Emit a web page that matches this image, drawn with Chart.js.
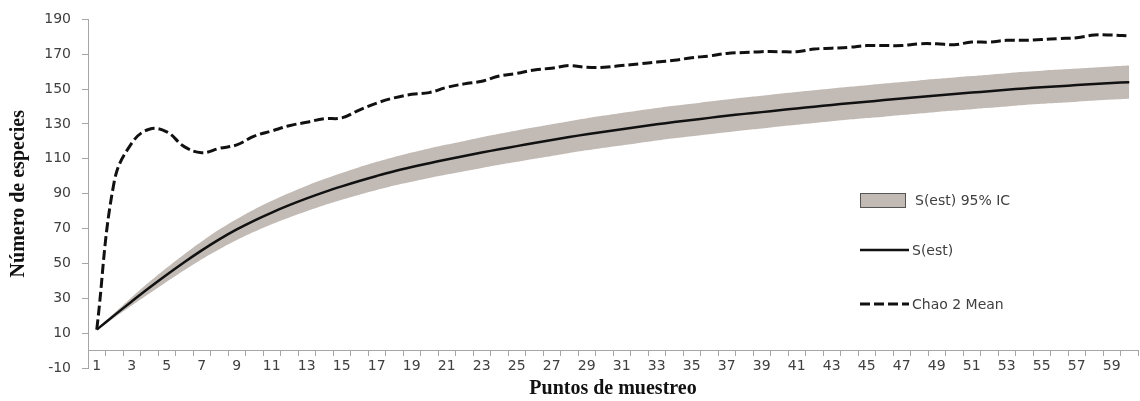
<!DOCTYPE html>
<html>
<head>
<meta charset="utf-8">
<script src="https://cdn.jsdelivr.net/npm/chart.js@4/dist/chart.umd.min.js"></script>
<style>
  html, body { margin: 0; padding: 0; background: #fff; }
  #wrap { width: 1140px; height: 401px; position: relative; }
</style>
</head>
<body>
<div id="wrap"><canvas id="curveChart"></canvas></div>
<script>
// Puntos de muestreo 1..60
var puntos = [];
for (var i = 1; i <= 60; i++) puntos.push(i);

// S(est) (rarefaction curve)
var sEst = [12, 20.2, 28.2, 36, 43.5, 50.7, 57.5, 63.8, 69.5, 74.6,
    79.2, 83.4, 87.3, 90.9, 94.2, 97.3, 100.2, 102.9, 105.3, 107.5,
    109.6, 111.6, 113.6, 115.5, 117.3, 119.1, 120.8, 122.5, 124.1, 125.6,
    127, 128.4, 129.8, 131.1, 132.3, 133.5, 134.7, 135.8, 136.8, 137.9,
    138.9, 139.9, 140.9, 141.9, 142.8, 143.7, 144.6, 145.5, 146.4, 147.2,
    148, 148.8, 149.6, 150.4, 151.1, 151.7, 152.3, 152.9, 153.5, 154];

// S(est) 95% IC upper / lower limits
var icUpper = [12, 21.5, 30.6, 39.3, 47.5, 55.3, 62.6, 69.4, 75.5, 81,
    85.9, 90.4, 94.6, 98.4, 101.9, 105.2, 108.3, 111.1, 113.7, 116,
    118.2, 120.3, 122.4, 124.4, 126.3, 128.1, 129.9, 131.6, 133.3, 134.8,
    136.3, 137.7, 139.1, 140.4, 141.6, 142.9, 144.1, 145.2, 146.2, 147.3,
    148.3, 149.3, 150.3, 151.3, 152.2, 153.2, 154.1, 155, 155.9, 156.7,
    157.5, 158.3, 159.1, 159.9, 160.6, 161.2, 161.8, 162.4, 163, 163.5];
var icLower = [12, 18.9, 25.8, 32.7, 39.5, 46.1, 52.4, 58.2, 63.5, 68.2,
    72.5, 76.4, 80, 83.4, 86.5, 89.4, 92.1, 94.7, 96.9, 99,
    101, 102.9, 104.8, 106.6, 108.3, 110.1, 111.7, 113.4, 114.9, 116.4,
    117.7, 119.1, 120.5, 121.8, 123, 124.1, 125.3, 126.4, 127.4, 128.5,
    129.5, 130.5, 131.5, 132.5, 133.4, 134.2, 135.1, 136, 136.9, 137.7,
    138.5, 139.3, 140.1, 140.9, 141.6, 142.2, 142.8, 143.4, 144, 144.5];

// Chao 2 Mean
var chao2 = [12, 97, 119, 127, 125.5, 117, 113.5, 116, 118, 123,
    126, 129, 131, 133, 133.5, 138, 142, 145, 147, 148,
    151, 153, 154.5, 157.5, 159, 161, 162, 163.5, 162.5, 162.5,
    163.5, 164.5, 165.5, 166.5, 168, 169, 170.5, 171, 171.5, 171.5,
    171.5, 173, 173.5, 174, 175, 175, 175, 176, 176, 175.5,
    177, 177, 178, 178, 178.5, 179, 179.5, 181, 181, 180.5];

var yTicks = [-10, 10, 30, 50, 70, 90, 110, 130, 150, 170, 190];

var bandColor = "#c2bab5";
var axisColor = "#a6a6a6";
var textColor = "#404040";
var tickFont = { family: "DejaVu Sans", size: 14 };
var titleFont = { family: "Liberation Serif", size: 20, weight: "bold" };

// legend drawn at a fixed spot inside the plot, like the original
var legendPlugin = {
    id: "sideLegend",
    afterDraw: function(chart) {
        var ctx = chart.ctx;
        var ds = chart.data.datasets;
        ctx.save();
        ctx.font = "14px 'DejaVu Sans'";
        ctx.textBaseline = "middle";
        // band
        ctx.fillStyle = ds[1].backgroundColor;
        ctx.fillRect(860, 193, 46, 15);
        ctx.strokeStyle = "#555";
        ctx.lineWidth = 1;
        ctx.strokeRect(860.5, 193.5, 45, 14);
        ctx.fillStyle = textColor;
        ctx.fillText(ds[1].label, 915, 201);
        // solid line
        ctx.strokeStyle = ds[2].borderColor;
        ctx.lineWidth = ds[2].borderWidth;
        ctx.beginPath(); ctx.moveTo(860, 250); ctx.lineTo(909, 250); ctx.stroke();
        ctx.fillText(ds[2].label, 912, 251);
        // dashed line
        ctx.strokeStyle = ds[3].borderColor;
        ctx.lineWidth = ds[3].borderWidth;
        ctx.setLineDash(ds[3].borderDash);
        ctx.beginPath(); ctx.moveTo(860, 304); ctx.lineTo(909, 304); ctx.stroke();
        ctx.setLineDash([]);
        ctx.fillText(ds[3].label, 912, 305);
        ctx.restore();
    }
};

var curveChart = new Chart(document.getElementById("curveChart"), {
    type: "line",
    data: {
        labels: puntos,
        datasets: [{
            label: "IC inferior",
            data: icLower,
            order: 4,
            borderWidth: 0,
            pointRadius: 0,
            fill: false,
            tension: 0.4
        }, {
            label: "S(est) 95% IC",
            data: icUpper,
            order: 3,
            borderWidth: 0,
            pointRadius: 0,
            backgroundColor: bandColor,
            fill: "-1",
            tension: 0.4
        }, {
            label: "S(est)",
            data: sEst,
            order: 2,
            borderColor: "#111",
            borderWidth: 2.5,
            pointRadius: 0,
            fill: false,
            tension: 0.4
        }, {
            label: "Chao 2 Mean",
            data: chao2,
            order: 1,
            borderColor: "#111",
            borderWidth: 3,
            borderDash: [10, 4],
            pointRadius: 0,
            fill: false,
            tension: 0.4
        }]
    },
    options: {
        responsive: true,
        maintainAspectRatio: false,
        animation: false,
        layout: { padding: { top: 15, right: 2, bottom: 33, left: 0 } },
        plugins: {
            legend: { display: false },
            tooltip: { enabled: false }
        },
        scales: {
            x: {
                type: "category",
                position: { y: 0 },
                offset: true,
                grid: {
                    offset: true,
                    drawOnChartArea: false,
                    drawTicks: true,
                    tickLength: 5,
                    color: axisColor
                },
                border: { display: true, color: axisColor, width: 1 },
                ticks: {
                    autoSkip: false,
                    maxRotation: 0,
                    padding: 2,
                    color: textColor,
                    font: tickFont,
                    callback: function(value, index) {
                        return index % 2 === 0 ? puntos[index] : "";
                    }
                },
                title: {
                    display: true,
                    text: "Puntos de muestreo",
                    color: "#111",
                    font: titleFont,
                    padding: { top: 0, bottom: 0 }
                }
            },
            y: {
                min: -10,
                max: 190,
                afterBuildTicks: function(scale) {
                    scale.ticks = yTicks.map(function(v) { return { value: v }; });
                },
                afterFit: function(scale) {
                    scale.width = 88;
                },
                grid: {
                    drawOnChartArea: false,
                    drawTicks: true,
                    tickLength: 6,
                    color: axisColor
                },
                border: { display: true, color: axisColor, width: 1 },
                ticks: {
                    padding: 11,
                    color: textColor,
                    font: tickFont
                },
                title: {
                    display: true,
                    text: "Número de especies",
                    color: "#111",
                    font: titleFont,
                    padding: { top: 7, bottom: 0 }
                }
            }
        }
    },
    plugins: [legendPlugin]
});
</script>
</body>
</html>
